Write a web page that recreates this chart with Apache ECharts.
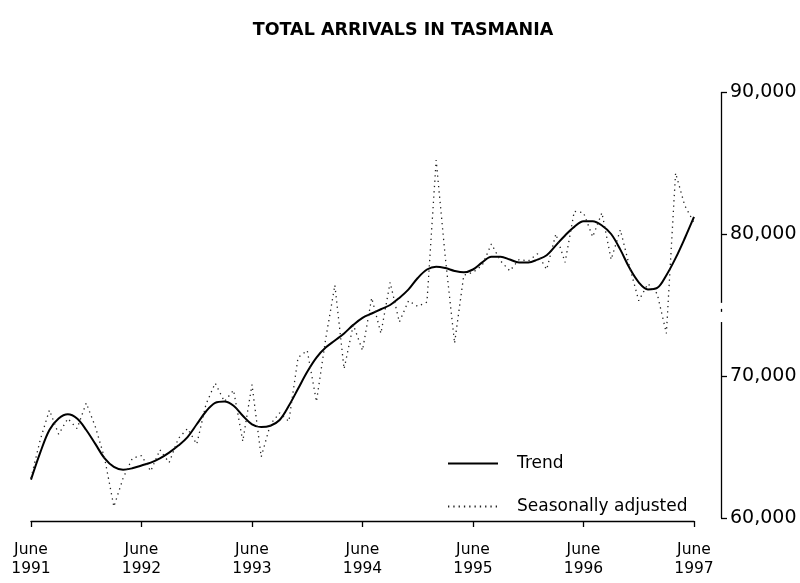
<!DOCTYPE html>
<html>
<head>
<meta charset="utf-8">
<script src="https://cdn.jsdelivr.net/npm/echarts@6/dist/echarts.min.js"></script>
<style>
  html, body { margin: 0; padding: 0; background: #fff; }
  #chart { width: 800px; height: 583px; }
</style>
</head>
<body>
<div id="chart"></div>
<script>
// months since June 1991 (0 = June 1991 ... 72 = June 1997)
var tickLabels = ['June\n1991', 'June\n1992', 'June\n1993', 'June\n1994', 'June\n1995', 'June\n1996', 'June\n1997'];

// trend, thousands
var trend = [
    62.7, 64.6, 66.2, 67.0, 67.3, 67.0, 66.2, 65.2, 64.2, 63.6, 63.4, 63.5,
    63.7, 63.9, 64.2, 64.6, 65.1, 65.7, 66.6, 67.5, 68.1, 68.2, 67.9, 67.2,
    66.6, 66.4, 66.5, 66.9, 67.9, 69.1, 70.3, 71.3, 72.0, 72.5, 73.0, 73.6,
    74.1, 74.4, 74.7, 75.0, 75.5, 76.1, 76.9, 77.5, 77.7, 77.6, 77.4, 77.3,
    77.5, 78.0, 78.4, 78.4, 78.2, 78.0, 78.0, 78.2, 78.5, 79.2, 79.9, 80.5,
    80.9, 80.9, 80.6, 80.0, 78.9, 77.6, 76.6, 76.1, 76.2, 77.1, 78.3, 79.7,
    81.2
];

// seasonally adjusted, thousands
var seasAdj = [
    62.8, 65.5, 67.6, 65.9, 67.0, 66.3, 68.1, 66.4, 64.2, 60.8, 62.8, 64.2,
    64.4, 63.3, 64.8, 63.9, 65.6, 66.3, 65.2, 68.0, 69.5, 68.2, 69.0, 65.4,
    69.4, 64.3, 66.6, 67.4, 66.8, 71.3, 71.8, 68.2, 72.6, 76.4, 70.5, 73.6,
    71.8, 75.5, 73.0, 76.6, 73.8, 75.3, 74.9, 75.2, 85.2, 78.3, 72.3, 77.1,
    77.3, 77.8, 79.3, 78.1, 77.4, 78.2, 78.1, 78.6, 77.5, 80.0, 78.0, 81.6,
    81.5, 79.8, 81.5, 78.2, 80.3, 77.7, 75.3, 76.5, 75.8, 73.0, 84.3, 82.0,
    80.8
];

function toPairs(arr) {
    var out = [];
    for (var i = 0; i < arr.length; i++) {
        out.push([i, arr[i] * 1000]);
    }
    return out;
}

var myChart = echarts.init(document.getElementById('chart'));
var font = 'DejaVu Sans';
var option = {
    animation: false,
    backgroundColor: '#fff',
    color: ['#000', '#222'],
    title: {
        text: 'TOTAL ARRIVALS IN TASMANIA',
        left: 398,
        textAlign: 'center',
        top: 16,
        textStyle: {
            fontFamily: font,
            fontWeight: 'bold',
            fontSize: 17.5,
            color: '#000'
        }
    },
    legend: {
        orient: 'vertical',
        left: 447,
        top: 455,
        padding: 0,
        itemWidth: 50,
        itemHeight: 14,
        itemGap: 26,
        itemStyle: {opacity: 0},
        textStyle: {
            fontFamily: font,
            fontSize: 17,
            color: '#000',
            padding: [0, 0, 0, 14]
        },
        data: ['Trend', 'Seasonally adjusted']
    },
    grid: {
        left: 31,
        right: 106,
        top: 92,
        bottom: 65
    },
    xAxis: {
        type: 'value',
        min: 0,
        max: 72,
        interval: 12,
        offset: 3,
        splitLine: {show: false},
        axisLine: {onZero: false, lineStyle: {color: '#000', width: 1.3}},
        axisTick: {length: 6, lineStyle: {color: '#000', width: 1.3}},
        axisLabel: {
            fontFamily: font,
            fontSize: 15.5,
            color: '#000',
            lineHeight: 19,
            margin: 19,
            formatter: function (v) {
                return tickLabels[Math.round(v / 12)];
            }
        }
    },
    yAxis: {
        type: 'value',
        position: 'right',
        offset: 27,
        min: 60000,
        max: 90000,
        interval: 10000,
        splitLine: {show: false},
        // line itself is drawn below with a scale break; keep it here only to hold tick position
        axisLine: {show: true, onZero: false, lineStyle: {color: 'rgba(0,0,0,0)', width: 1}},
        axisTick: {show: true, length: 6, lineStyle: {color: '#000', width: 1.3}},
        axisLabel: {
            fontFamily: font,
            fontSize: 19,
            color: '#000',
            margin: 9,
            formatter: function (v) {
                return v.toLocaleString('en-US');
            }
        }
    },
    series: [
        {
            name: 'Trend',
            type: 'line',
            data: toPairs(trend),
            smooth: 0.35,
            symbol: 'none',
            lineStyle: {color: '#000', width: 2}
        },
        {
            name: 'Seasonally adjusted',
            type: 'line',
            data: toPairs(seasAdj),
            symbol: 'none',
            lineStyle: {color: '#222', width: 1.3, type: [1.3, 4]}
        }
    ]
};
myChart.setOption(option);

// value axis line drawn in two pieces with a scale break, as in the printed original
var axisX = Math.round(myChart.convertToPixel({xAxisIndex: 0}, 72)) + 27 + 0.5;
var yTop = myChart.convertToPixel({yAxisIndex: 0}, 90000);
var yBreakA = myChart.convertToPixel({yAxisIndex: 0}, 75150);
var yBreakB = myChart.convertToPixel({yAxisIndex: 0}, 73800);
var yBot = myChart.convertToPixel({yAxisIndex: 0}, 60000);
var axisStyle = {stroke: '#000', lineWidth: 1.3};
myChart.setOption({
    graphic: [
        {type: 'line', shape: {x1: axisX, y1: yTop, x2: axisX, y2: yBreakA}, style: axisStyle},
        {type: 'line', shape: {x1: axisX, y1: yBreakA + 6, x2: axisX, y2: yBreakA + 9}, style: axisStyle},
        {type: 'line', shape: {x1: axisX, y1: yBreakB, x2: axisX, y2: yBot}, style: axisStyle}
    ]
});
</script>
</body>
</html>
